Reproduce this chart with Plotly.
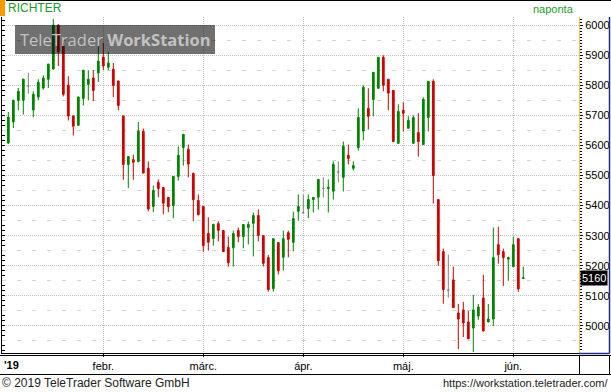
import pandas as pd
import plotly.graph_objects as go

# ---------------- data ----------------
HOLIDAYS = ["2019-03-15", "2019-04-19", "2019-04-22", "2019-05-01"]
dates = [d.strftime("%Y-%m-%d") for d in pd.bdate_range("2019-01-07", "2019-06-05")
         if d.strftime("%Y-%m-%d") not in HOLIDAYS]

opens = [5608, 5678, 5750, 5750, 5798, 5718, 5761, 5791, 5820, 5854,
         6000, 5930, 5800, 5698, 5667, 5756, 5803, 5824, 5841, 5894,
         5860, 5853, 5814, 5698, 5537, 5553, 5547, 5647, 5524, 5397,
         5477, 5460, 5427, 5400, 5497, 5593, 5587, 5507, 5417, 5397,
         5307, 5291, 5340, 5317, 5261, 5260, 5317, 5297, 5327, 5341,
         5367, 5300, 5227, 5124, 5277, 5228, 5310, 5278, 5381, 5376,
         5390, 5420, 5428, 5457, 5457, 5448, 5512, 5494, 5567, 5524,
         5593, 5648, 5723, 5753, 5790, 5893, 5820, 5783, 5607, 5717,
         5657, 5607, 5643, 5603, 5693, 5813, 5420, 5247, 5119, 5153,
         5043, 5053, 5013, 4993, 5033, 5093, 5013, 5023, 5270, 5247,
         5222, 5197, 5290, 5158]
highs = [5711, 5752, 5791, 5822, 5842, 5780, 5820, 5833, 5872, 6020,
         6003, 5941, 5830, 5700, 5762, 5850, 5850, 5850, 5930, 5941,
         5911, 5874, 5816, 5699, 5563, 5569, 5678, 5656, 5547, 5467,
         5487, 5461, 5428, 5497, 5597, 5637, 5603, 5510, 5437, 5398,
         5361, 5340, 5348, 5318, 5297, 5317, 5327, 5337, 5347, 5377,
         5387, 5301, 5236, 5290, 5278, 5317, 5317, 5380, 5437, 5437,
         5437, 5427, 5487, 5494, 5487, 5547, 5547, 5613, 5603, 5547,
         5723, 5800, 5790, 5843, 5893, 5900, 5821, 5784, 5737, 5743,
         5697, 5700, 5707, 5760, 5813, 5820, 5421, 5257, 5237, 5197,
         5073, 5080, 5050, 5103, 5073, 5170, 5073, 5327, 5330, 5257,
         5230, 5297, 5291, 5197]
lows = [5605, 5658, 5717, 5703, 5772, 5694, 5750, 5785, 5791, 5852,
        5864, 5763, 5683, 5633, 5665, 5733, 5750, 5748, 5811, 5850,
        5850, 5761, 5717, 5486, 5458, 5486, 5544, 5508, 5381, 5378,
        5428, 5371, 5378, 5358, 5483, 5533, 5494, 5348, 5367, 5247,
        5250, 5267, 5281, 5247, 5197, 5197, 5278, 5258, 5271, 5231,
        5281, 5198, 5114, 5114, 5171, 5184, 5228, 5248, 5350, 5375,
        5358, 5377, 5387, 5427, 5377, 5420, 5477, 5447, 5537, 5517,
        5583, 5617, 5653, 5697, 5790, 5780, 5717, 5613, 5607, 5647,
        5657, 5607, 5563, 5603, 5647, 5407, 5200, 5074, 5094, 5061,
        4923, 4963, 4957, 4913, 5020, 4983, 5013, 5000, 5207, 5133,
        5150, 5197, 5113, 5157]
closes = [5694, 5750, 5780, 5820, 5798, 5770, 5810, 5824, 5870, 6000,
          5911, 5770, 5698, 5664, 5761, 5850, 5820, 5783, 5880, 5864,
          5874, 5800, 5733, 5537, 5563, 5544, 5647, 5508, 5389, 5450,
          5457, 5408, 5397, 5497, 5567, 5637, 5538, 5420, 5370, 5267,
          5278, 5337, 5318, 5247, 5210, 5307, 5297, 5337, 5337, 5367,
          5301, 5208, 5121, 5290, 5184, 5290, 5288, 5357, 5397, 5376,
          5420, 5427, 5487, 5457, 5461, 5537, 5512, 5597, 5557, 5533,
          5693, 5793, 5697, 5843, 5893, 5800, 5774, 5613, 5713, 5707,
          5683, 5693, 5613, 5753, 5813, 5500, 5217, 5121, 5119, 5061,
          5023, 5010, 4957, 5053, 5063, 4983, 5023, 5227, 5237, 5227,
          5227, 5270, 5123, 5160]

month_ticks = ["2019-02-01", "2019-03-01", "2019-04-01", "2019-05-02", "2019-06-03"]
month_labels = ["febr.", "márc.", "ápr.", "máj.", "jún."]
y_ticks = [5000, 5100, 5200, 5300, 5400, 5500, 5600, 5700, 5800, 5900, 6000]

# ---------------- split dojis (grey) ----------------
reg = [i for i in range(len(dates)) if opens[i] != closes[i]]
doj = [i for i in range(len(dates)) if opens[i] == closes[i]]

def pick(arr, idx):
    return [arr[i] for i in idx]

GREEN, RED, GREY = "#008000", "#cc0000", "#808080"

fig = go.Figure()
fig.add_trace(go.Candlestick(
    x=pick(dates, reg), open=pick(opens, reg), high=pick(highs, reg),
    low=pick(lows, reg), close=pick(closes, reg),
    increasing=dict(line=dict(color=GREEN, width=1), fillcolor=GREEN),
    decreasing=dict(line=dict(color=RED, width=1), fillcolor=RED),
    whiskerwidth=0, showlegend=False, yaxis="y"))
fig.add_trace(go.Candlestick(
    x=pick(dates, doj), open=pick(opens, doj), high=pick(highs, doj),
    low=pick(lows, doj), close=pick(closes, doj),
    increasing=dict(line=dict(color=GREY, width=1), fillcolor=GREY),
    decreasing=dict(line=dict(color=GREY, width=1), fillcolor=GREY),
    whiskerwidth=0, showlegend=False, yaxis="y"))

# ---------------- geometry helpers (pixels -> paper) ----------------
W, H = 611, 392
X0, X1, Y0, Y1 = 2, 579, 17, 353
def px(x):
    return (x - X0) / (X1 - X0)
def py(y):
    return (Y1 - y) / (Y1 - Y0)

YR = [4910, 6027]
FONT = "Liberation Sans"

fig.update_layout(
    width=W, height=H,
    margin=dict(l=X0, r=W - X1, t=Y0, b=H - Y1, pad=0, autoexpand=False),
    paper_bgcolor="white", plot_bgcolor="white",
    font=dict(family=FONT, size=11, color="black"),
    boxgap=0.5,
    showlegend=False,
    xaxis=dict(
        type="category", categoryorder="array", categoryarray=dates,
        range=[-1.26, 114.14], rangeslider=dict(visible=False),
        tickvals=month_ticks, ticktext=month_labels,
        showgrid=True, gridcolor="#c4c4c4", griddash="1px,1px", gridwidth=1,
        ticks="outside", ticklen=3, tickcolor="black",
        showline=True, linecolor="black", linewidth=1,
        tickfont=dict(family=FONT, size=11, color="black"),
        fixedrange=True, automargin=False,
    ),
    yaxis=dict(
        side="right", range=YR, tickvals=y_ticks,
        showgrid=True, gridcolor="#c4c4c4", griddash="1px,1px", gridwidth=1,
        ticks="outside", ticklen=3, tickcolor="black",
        minor=dict(dtick=10, tick0=5000, ticks="outside", ticklen=2,
                   tickcolor="black", showgrid=False),
        showline=True, linecolor="#f2c14e", linewidth=1,
        zeroline=False, automargin=False,
        tickfont=dict(family=FONT, size=11, color="black"),
        fixedrange=True,
    ),
    yaxis2=dict(
        overlaying="y", side="left", range=YR,
        tick0=4950, dtick=100, showticklabels=False, ticks="",
        showgrid=True, gridcolor="#d4d4d4", griddash="4px,11px", gridwidth=1,
        minor=dict(dtick=50 / 3, tick0=5000, ticks="inside", ticklen=3,
                   tickcolor="black", showgrid=False),
        showline=True, linecolor="black", linewidth=1,
        zeroline=False, fixedrange=True, automargin=False,
    ),
)

# invisible helper so yaxis2 renders
fig.add_trace(go.Scatter(x=[dates[0]], y=[YR[0] - 100], yaxis="y2",
                         mode="markers", marker=dict(opacity=0),
                         hoverinfo="skip", showlegend=False))

shapes = []
def line(x0, y0, x1, y1, color="black", width=1):
    shapes.append(dict(type="line", xref="paper", yref="paper",
                       x0=px(x0), y0=py(y0), x1=px(x1), y1=py(y1),
                       line=dict(color=color, width=width), layer="above"))

# frame lines
line(6, 0.5, 611, 0.5)
line(0, 355.5, 611, 355.5)
line(0, 374.5, 611, 374.5)
line(579.5, 355.5, 579.5, 374.5)
line(609.5, 355.5, 609.5, 374.5)
line(609.5, 17, 609.5, 353.5, color="#1c2f8c", width=1.5)
line(579, 353.5, 609.5, 353.5, color="#1c2f8c", width=1.5)

# orange title marker
shapes.append(dict(type="rect", xref="paper", yref="paper",
                   x0=px(0), x1=px(5), y0=py(16), y1=py(0),
                   fillcolor="#f59a00", line=dict(width=0), layer="above"))
# watermark box
shapes.append(dict(type="rect", xref="paper", yref="paper",
                   x0=px(15), x1=px(215), y0=py(54), y1=py(25),
                   fillcolor="rgba(0,0,0,0.56)", line=dict(width=0), layer="above"))
fig.update_layout(shapes=shapes)

ann = []
def text(x, y, s, anchor="left", size=11, color="black", family=FONT, **kw):
    ann.append(dict(xref="paper", yref="paper", x=px(x), y=py(y), text=s,
                    xanchor=anchor, yanchor="middle", showarrow=False,
                    font=dict(family=family, size=size, color=color), **kw))

text(6, 8.5, "RICHTER", size=12, color="#1f9a2a")
text(576, 9, "naponta", anchor="right", size=11, color="#1f9a2a")
text(115, 40, "TeleTrader <b>WorkStation</b>", anchor="center", size=16.5,
     color="#c2c2c2", family="Open Sans")
text(2, 365, "<b>'19</b>", size=11)
text(0, 383, "© 2019 TeleTrader Software GmbH", size=12, color="#222222")
text(610, 383, "https://workstation.teletrader.com/", anchor="right",
     size=11, color="#222222")

# last price tag
ann.append(dict(xref="paper", yref="y", x=px(580), y=closes[-1],
                text=str(closes[-1]), xanchor="left", yanchor="middle",
                showarrow=False, bgcolor="black", borderpad=1,
                font=dict(family=FONT, size=11, color="white")))
fig.update_layout(annotations=ann)

fig.write_html("out.html", config={"displayModeBar": False},
               post_script="document.body.style.margin='0px';")
